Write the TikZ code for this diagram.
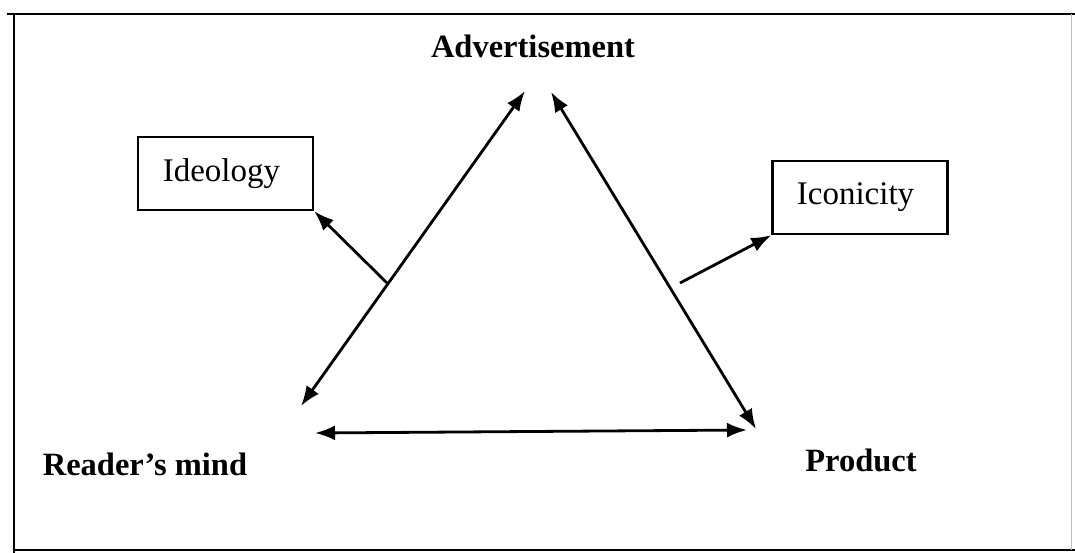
\documentclass[tikz,border=0pt]{standalone}
\usepackage{fontspec}
\setmainfont{Liberation Serif}
\usetikzlibrary{arrows.meta}
\begin{document}
\begin{tikzpicture}[x=1pt,y=-1pt,
  conn/.style={line width=2.8pt,-{Latex[length=20pt,width=15pt]}},
  biconn/.style={line width=2.8pt,{Latex[length=20pt,width=15pt]}-{Latex[length=20pt,width=15pt]}},
  boxnode/.style={draw,line width=2.4pt,minimum width=175pt,minimum height=73pt,inner sep=0pt,font=\fontsize{33}{38}\selectfont},
  lbl/.style={anchor=base,inner sep=0pt,font=\fontsize{32.5}{37}\selectfont\bfseries}]
\useasboundingbox (0,0) rectangle (1075,553);
\fill[white] (0,0) rectangle (1075,553);
% frame
\draw[line width=2.8pt] (7,14) -- (1075,14);
\draw[line width=2.6pt] (14,14) -- (14,553);
\draw[line width=2.4pt] (14,550) -- (1075,550);
\draw[line width=1pt,black!25] (1071,14) -- (1071,550);
% labels
\node[lbl] (adv) at (533,58) {Advertisement};
\node[lbl] (reader) at (145,475) {Reader’s mind};
\node[lbl] (prod) at (861,471) {Product};
% boxes
\node[boxnode] (ideo) at (225.5,173.5) {\hspace*{-8pt}\raisebox{2pt}{Ideology}};
\node[boxnode] (icon) at (860,197.5) {\hspace*{-9pt}\raisebox{2pt}{Iconicity}};
% triangle corners
\coordinate (lt) at (525,91);
\coordinate (lb) at (301,406);
\coordinate (rt) at (551,92);
\coordinate (rb) at (756,429);
\coordinate (bl) at (315,433);
\coordinate (br) at (747,430);
\draw[biconn] (lb) -- (lt);
\draw[biconn] (rt) -- (rb);
\draw[biconn] (bl) -- (br);
% side arrows
\coordinate (ls) at (387,283);
\coordinate (rs) at (680,283);
\draw[conn] (ls) -- (ideo.south east);
\draw[conn] (rs) -- (icon.south west);
\end{tikzpicture}
\end{document}
